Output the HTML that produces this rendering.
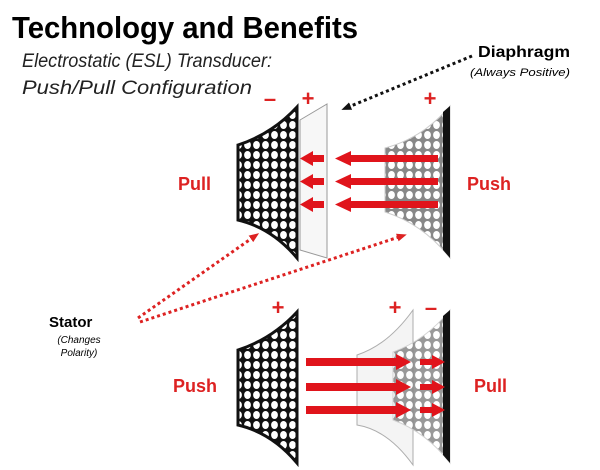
<!DOCTYPE html>
<html><head><style>
html,body{margin:0;padding:0;background:#fff;}
svg{display:block;}
</style></head><body>
<svg width="600" height="470" viewBox="0 0 600 470" xmlns="http://www.w3.org/2000/svg" font-family="Liberation Sans, sans-serif">
<defs>
<pattern id="holes" x="0" y="0" width="9" height="10" patternUnits="userSpaceOnUse">
<rect width="9" height="10" fill="#111"/>
<ellipse cx="4.5" cy="5" rx="3.4" ry="4" fill="#fff"/>
</pattern>
<pattern id="holesL" x="0" y="0" width="9" height="10" patternUnits="userSpaceOnUse">
<rect width="9" height="10" fill="#888"/>
<ellipse cx="4.5" cy="5" rx="3.4" ry="4" fill="#fff"/>
</pattern>
<marker id="ab" markerUnits="userSpaceOnUse" markerWidth="10" markerHeight="10" refX="5" refY="5" orient="auto"><path d="M0,1 L10,5 L0,9 z" fill="#111"/></marker>
<marker id="ar" markerUnits="userSpaceOnUse" markerWidth="10" markerHeight="10" refX="5" refY="5" orient="auto"><path d="M0,1 L10,5 L0,9 z" fill="#d22"/></marker>
</defs>

<text x="12" y="38" font-size="31" font-weight="bold" textLength="346" lengthAdjust="spacingAndGlyphs">Technology and Benefits</text>
<text x="22" y="67" font-size="19" font-style="italic" textLength="250" lengthAdjust="spacingAndGlyphs" fill="#222">Electrostatic (ESL) Transducer:</text>
<text x="22" y="94" font-size="19" font-style="italic" textLength="230" lengthAdjust="spacingAndGlyphs" fill="#222">Push/Pull Configuration</text>
<text x="478" y="57" font-size="16" font-weight="bold" textLength="92" lengthAdjust="spacingAndGlyphs">Diaphragm</text>
<text x="470" y="76" font-size="11" font-style="italic" textLength="100" lengthAdjust="spacingAndGlyphs">(Always Positive)</text>

<line x1="472" y1="56" x2="346" y2="108" stroke="#111" stroke-width="3" stroke-dasharray="3,3" marker-end="url(#ab)"/>

<!-- TOP -->
<text x="270" y="106" font-size="22" font-weight="bold" fill="#d22" text-anchor="middle">–</text>
<text x="308" y="106" font-size="22" font-weight="bold" fill="#d22" text-anchor="middle">+</text>
<text x="430" y="106" font-size="22" font-weight="bold" fill="#d22" text-anchor="middle">+</text>
<path d="M238,145 Q272,134 297,107 L297,258 Q272,228 238,220 Z" fill="url(#holes)" stroke="#111" stroke-width="3"/>
<path d="M300,120 L327,104 L327,258 L300,250 Z" fill="#f4f4f4" fill-opacity="0.7" stroke="#999" stroke-width="1"/>
<path d="M385,148 Q423,138 450,106 L450,258 Q423,224 385,212 Z" fill="url(#holesL)" stroke="#ccc" stroke-width="1"/>
<path d="M443,112 L450,106 L450,258 L443,250 Z" fill="#111"/>
<g fill="#e0141b">
<rect x="312" y="155" width="12" height="7"/><path d="M300,158.5 L313,151 L313,166 Z"/>
<rect x="312" y="178" width="12" height="7"/><path d="M300,181.5 L313,174 L313,189 Z"/>
<rect x="312" y="201" width="12" height="7"/><path d="M300,204.5 L313,197 L313,212 Z"/>
<rect x="350" y="155" width="88" height="7"/><path d="M335,158.5 L351,151 L351,166 Z"/>
<rect x="350" y="178" width="88" height="7"/><path d="M335,181.5 L351,174 L351,189 Z"/>
<rect x="350" y="201" width="88" height="7"/><path d="M335,204.5 L351,197 L351,212 Z"/>
</g>
<text x="178" y="190" font-size="18" font-weight="bold" fill="#d22">Pull</text>
<text x="467" y="190" font-size="18" font-weight="bold" fill="#d22">Push</text>

<line x1="138" y1="318" x2="255" y2="236" stroke="#d22" stroke-width="3" stroke-dasharray="3,3" marker-end="url(#ar)"/>
<line x1="140" y1="322" x2="402" y2="236" stroke="#d22" stroke-width="3" stroke-dasharray="3,3" marker-end="url(#ar)"/>
<text x="49" y="327" font-size="15" font-weight="bold">Stator</text>
<text x="79" y="343" font-size="10" font-style="italic" text-anchor="middle">(Changes</text>
<text x="79" y="356" font-size="10" font-style="italic" text-anchor="middle">Polarity)</text>

<!-- BOTTOM -->
<text x="278" y="315" font-size="22" font-weight="bold" fill="#d22" text-anchor="middle">+</text>
<text x="395" y="315" font-size="22" font-weight="bold" fill="#d22" text-anchor="middle">+</text>
<text x="431" y="315" font-size="22" font-weight="bold" fill="#d22" text-anchor="middle">–</text>
<path d="M238,350 Q272,339 297,312 L297,463 Q272,433 238,425 Z" fill="url(#holes)" stroke="#111" stroke-width="3"/>
<path d="M357,355 Q388,345 413,310 L413,465 Q388,430 357,425 Z" fill="#f2f2f2" stroke="#999" stroke-width="1" opacity="0.8"/>
<path d="M393,352 Q426,340 450,310 L450,463 Q426,432 393,420 Z" fill="url(#holesL)" stroke="#ccc" stroke-width="1" opacity="0.85"/>
<path d="M443,316 L450,310 L450,463 L443,455 Z" fill="#111"/>
<g fill="#e0141b">
<rect x="306" y="358" width="92" height="8"/><path d="M411,362 L396,354 L396,370 Z"/>
<rect x="306" y="383" width="92" height="8"/><path d="M411,387 L396,379 L396,395 Z"/>
<rect x="306" y="406" width="92" height="8"/><path d="M411,410 L396,402 L396,418 Z"/>
<rect x="420" y="359" width="14" height="6"/><path d="M445,362 L432,355 L432,369 Z"/>
<rect x="420" y="384" width="14" height="6"/><path d="M445,387 L432,380 L432,394 Z"/>
<rect x="420" y="407" width="14" height="6"/><path d="M445,410 L432,403 L432,417 Z"/>
</g>
<text x="173" y="392" font-size="18" font-weight="bold" fill="#d22">Push</text>
<text x="474" y="392" font-size="18" font-weight="bold" fill="#d22">Pull</text>
</svg>
</body></html>
